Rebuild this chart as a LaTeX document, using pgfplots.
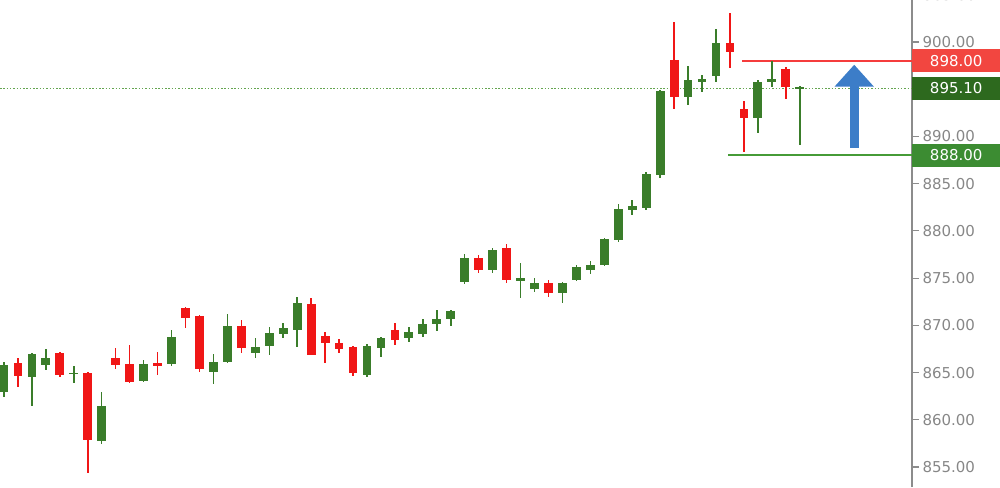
\documentclass[border=0pt]{standalone}
\usepackage{fontspec}
\setmainfont{DejaVu Sans}
\usepackage{pgfplots}
\pgfplotsset{compat=1.18}
\usepackage{pgfplotstable}
\usetikzlibrary{arrows.meta}
\definecolor{cgreen}{RGB}{58,125,42}
\definecolor{cred}{RGB}{240,22,22}
\definecolor{axgray}{RGB}{140,140,140}
\definecolor{labgray}{RGB}{135,135,135}
\definecolor{dotgreen}{RGB}{100,165,80}
\definecolor{boxred}{RGB}{242,70,64}
\definecolor{boxdkgreen}{RGB}{45,105,30}
\definecolor{boxgreen}{RGB}{60,140,50}
\definecolor{refred}{RGB}{245,60,60}
\definecolor{refgreen}{RGB}{70,155,55}
\definecolor{arrowblue}{RGB}{60,125,200}

\pgfplotstableread{
i o h l c
0 862.9 866.1 862.4 865.8
2 864.5 867.1 861.5 867.0
3 865.8 867.5 865.3 866.5
5 864.8 865.7 863.9 865.0
7 857.8 862.9 857.4 861.5
10 864.1 866.3 864.0 865.9
12 865.9 869.5 865.7 868.8
15 865.1 867.0 863.8 866.1
16 866.1 871.2 866.0 869.9
18 867.1 868.7 866.5 867.7
19 867.8 869.8 866.9 869.2
20 869.1 870.2 868.7 869.7
21 869.5 873.0 867.7 872.4
26 864.7 868.0 864.5 867.8
27 867.6 868.8 866.7 868.7
29 868.7 869.8 868.2 869.3
30 869.1 870.7 868.8 870.2
31 870.1 871.6 869.4 870.7
32 870.7 871.6 869.9 871.5
33 874.6 877.5 874.4 877.1
35 875.9 878.2 875.6 878.0
37 874.7 876.6 872.9 875.0
38 873.8 875.0 873.5 874.5
40 873.4 874.6 872.4 874.5
41 874.8 876.4 874.7 876.2
42 875.9 876.8 875.4 876.4
43 876.4 879.3 876.3 879.2
44 879.0 882.8 878.8 882.3
45 882.2 883.3 881.7 882.6
46 882.4 886.2 882.2 886.0
47 885.9 894.9 885.6 894.8
49 894.2 897.5 893.3 896.0
50 895.8 896.5 894.7 896.1
51 896.4 901.4 895.8 899.9
54 892.0 896.0 890.4 895.8
55 895.8 898.0 895.2 896.1
57 895.0 895.3 889.1 895.2
}\greentab

\pgfplotstableread{
i o h l c
1 866.0 866.6 863.5 864.6
4 867.1 867.2 864.5 864.8
6 865.0 865.1 854.4 857.9
8 866.5 867.6 865.4 865.8
9 865.9 867.9 863.9 864.0
11 866.0 867.2 864.7 865.7
13 871.8 871.9 869.7 870.8
14 871.0 871.1 865.1 865.4
17 869.9 870.6 867.1 867.6
22 872.3 872.9 866.9 866.9
23 868.9 869.3 866.0 868.1
24 868.1 868.6 867.1 867.5
25 867.7 867.8 864.6 865.0
28 869.5 870.2 867.9 868.5
34 877.1 877.5 875.6 875.9
36 878.2 878.6 874.5 874.8
39 874.5 874.8 873.0 873.4
48 898.1 902.1 892.9 894.2
52 899.9 903.1 897.2 899.0
53 892.9 893.8 888.4 892.0
56 897.1 897.4 894.0 895.2
}\redtab

\begin{document}
\begin{tikzpicture}[x=1pt,y=1pt]
\useasboundingbox (0,0) rectangle (1000,487);
\begin{axis}[
  at={(0,0)}, anchor=south west,
  scale only axis, width=912pt, height=487pt,
  xmin=-0.2865, xmax=65.04, ymin=852.88, ymax=904.45,
  hide x axis,
  axis y line*=right,
  axis line style={draw=axgray, line width=1.5pt},
  ytick={855,860,865,870,875,880,885,890,900},
  tick align=outside, major tick length=7pt,
  tick style={draw=axgray, line width=1.2pt},
  yticklabel style={text=labgray, font=\fontsize{15}{17}\selectfont},
  /pgf/number format/fixed, /pgf/number format/fixed zerofill,
  /pgf/number format/precision=2, /pgf/number format/1000 sep={},
  /pgf/number format/assume math mode=true,
  clip=false,
]
% reference lines
\addplot[draw=dotgreen, line width=1pt, dash pattern=on 1.5pt off 1.8pt] coordinates {(-0.2865,895.1) (65.04,895.1)};
\addplot[draw=refred, line width=1.6pt] coordinates {(52.87,898) (65.04,898)};
\addplot[draw=refgreen, line width=1.8pt] coordinates {(51.86,888) (65.04,888)};
% green wicks and bodies
\addplot[draw=none, forget plot, error bars/.cd, y dir=both, y explicit, error mark=none,
  error bar style={draw=cgreen, line width=1.5pt, solid}]
  table[x=i, y expr={(\thisrow{h}+\thisrow{l})/2}, y error expr={(\thisrow{h}-\thisrow{l})/2}] {\greentab};
\addplot[draw=none, forget plot, error bars/.cd, y dir=both, y explicit, error mark=none,
  error bar style={draw=cgreen, line width=8.8pt, solid}]
  table[x=i, y expr={(\thisrow{o}+\thisrow{c})/2}, y error expr={abs(\thisrow{c}-\thisrow{o})/2}] {\greentab};
% red wicks and bodies
\addplot[draw=none, forget plot, error bars/.cd, y dir=both, y explicit, error mark=none,
  error bar style={draw=cred, line width=1.5pt, solid}]
  table[x=i, y expr={(\thisrow{h}+\thisrow{l})/2}, y error expr={(\thisrow{h}-\thisrow{l})/2}] {\redtab};
\addplot[draw=none, forget plot, error bars/.cd, y dir=both, y explicit, error mark=none,
  error bar style={draw=cred, line width=8.8pt, solid}]
  table[x=i, y expr={(\thisrow{o}+\thisrow{c})/2}, y error expr={abs(\thisrow{c}-\thisrow{o})/2}] {\redtab};
% arrow
\addplot[draw=arrowblue, fill=arrowblue, line width=9pt, -{Triangle[length=22pt, width=38pt]}] coordinates {(60.9,888.8) (60.9,897.6)};
% price boxes
\node[fill=boxred, text=white, anchor=west, minimum width=88pt, minimum height=23pt, inner sep=0pt, font=\fontsize{15}{17}\selectfont] at (axis cs:65.04,898) {898.00};
\node[fill=boxdkgreen, text=white, anchor=west, minimum width=88pt, minimum height=23pt, inner sep=0pt, font=\fontsize{15}{17}\selectfont] at (axis cs:65.04,895.1) {895.10};
\node[fill=boxgreen, text=white, anchor=west, minimum width=88pt, minimum height=23pt, inner sep=0pt, font=\fontsize{15}{17}\selectfont] at (axis cs:65.04,888) {888.00};
\node[text=labgray, anchor=west, font=\fontsize{15}{17}\selectfont] at (axis cs:65.6,905) {905.00};
\end{axis}
\end{tikzpicture}
\end{document}
